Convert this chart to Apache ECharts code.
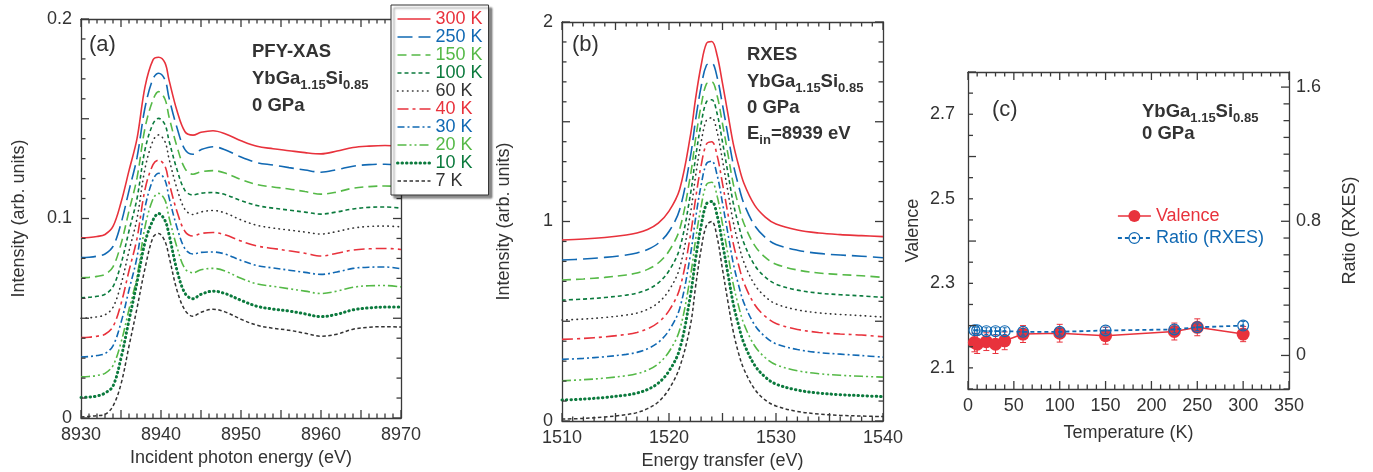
<!DOCTYPE html>
<html>
<head>
<meta charset="utf-8">
<script src="https://cdn.jsdelivr.net/npm/echarts@6/dist/echarts.min.js"></script>
<style>
  html, body { margin: 0; padding: 0; background: #fff; }
  #chart { width: 1373px; height: 472px; }
</style>
</head>
<body>
<div id="chart"></div>
<script>
// ---------- data ----------
const temperatures = ['300 K', '250 K', '150 K', '100 K', '60 K', '40 K', '30 K', '20 K', '10 K', '7 K'];

// (a) PFY-XAS spectra, incident photon energy (eV) vs intensity (offset per temperature)
const xasEnergy = [8930, 8931, 8932, 8933, 8934, 8935, 8936, 8937, 8938, 8939, 8939.7, 8940.5, 8941, 8942, 8943,
  8944, 8945, 8946.5, 8948, 8950, 8952, 8954, 8956, 8958, 8960, 8962, 8964, 8966, 8968, 8970];
const xas300 = [.0903, .0905, .0910, .0920, .0960, .1080, .1240, .1400, .1660, .1795, .1808, .1780, .1695, .1540, .1435, .1418, .1432, .1440, .1425, .1390, .1362, .1350, .1340, .1330, .1324, .1338, .1356, .1363, .1366, .1360];
const xas250 = [.0804, .0806, .0811, .0822, .0860, .0975, .1140, .1305, .1555, .1700, .1728, .1695, .1605, .1455, .1345, .1322, .1345, .1360, .1345, .1308, .1280, .1268, .1255, .1243, .1232, .1245, .1262, .1270, .1272, .1268];
const xas150 = [.0703, .0705, .0710, .0720, .0758, .0872, .1038, .1203, .1453, .1595, .1636, .1598, .1510, .1360, .1250, .1222, .1234, .1240, .1228, .1195, .1170, .1158, .1148, .1135, .1122, .1133, .1152, .1160, .1163, .1160];
const xas100 = [.0603, .0605, .0610, .0620, .0658, .0772, .0938, .1100, .1345, .1475, .1502, .1470, .1390, .1245, .1140, .1118, .1127, .1130, .1120, .1090, .1065, .1052, .1042, .1032, .1022, .1033, .1048, .1056, .1058, .1052];
const xas60 = [.0500, .0502, .0507, .0517, .0555, .0670, .0837, .1000, .1250, .1390, .1419, .1385, .1300, .1150, .1045, .1020, .1033, .1040, .1028, .0993, .0966, .0952, .0942, .0932, .0922, .0935, .0952, .0960, .0962, .0958];
const xas40 = [.0403, .0405, .0410, .0420, .0458, .0572, .0738, .0900, .1145, .1270, .1293, .1262, .1180, .1035, .0935, .0912, .0925, .0930, .0918, .0887, .0862, .0850, .0838, .0826, .0812, .0826, .0842, .0848, .0850, .0845];
const xas30 = [.0306, .0308, .0313, .0323, .0362, .0478, .0642, .0806, .1055, .1195, .1227, .1192, .1106, .0955, .0848, .0822, .0830, .0832, .0822, .0790, .0764, .0752, .0741, .0730, .0720, .0732, .0750, .0756, .0757, .0748];
const xas20 = [.0206, .0208, .0213, .0224, .0263, .0378, .0544, .0708, .0958, .1098, .1126, .1092, .1006, .0856, .0748, .0728, .0743, .0750, .0737, .0700, .0672, .0660, .0648, .0636, .0624, .0636, .0655, .0663, .0664, .0657];
const xas10 = [.0103, .0105, .0110, .0125, .0160, .0300, .0490, .0680, .0880, .0992, .1025, .0990, .0920, .0740, .0625, .0598, .0620, .0636, .0624, .0590, .0560, .0546, .0536, .0522, .0508, .0520, .0542, .0552, .0556, .0556];
const xas7 = [.0005, .0008, .0012, .0018, .0060, .0170, .0360, .0550, .0750, .0905, .0925, .0885, .0810, .0640, .0540, .0510, .0530, .0545, .0532, .0495, .0465, .0450, .0440, .0425, .0410, .0420, .0445, .0455, .0458, .0456];

// (b) RXES spectra, energy transfer (eV) vs intensity (offset per temperature)
const rxesEnergy = [1510, 1512, 1514, 1516, 1517, 1518, 1519, 1520, 1521, 1522, 1522.5, 1523, 1523.5, 1524,
  1524.5, 1525, 1525.5, 1526, 1526.5, 1527, 1528, 1529, 1530, 1532, 1534, 1536, 1538, 1540];
const rxes300 = [0.907, 0.912, 0.920, 0.932, 0.942, 0.960, 0.992, 1.052, 1.162, 1.430, 1.622, 1.782, 1.892, 1.902, 1.832, 1.692, 1.542, 1.392, 1.282, 1.192, 1.082, 1.022, 0.987, 0.957, 0.942, 0.934, 0.929, 0.924];
const rxes250 = [0.807, 0.812, 0.820, 0.832, 0.842, 0.860, 0.891, 0.950, 1.060, 1.325, 1.515, 1.675, 1.783, 1.793, 1.723, 1.585, 1.435, 1.288, 1.180, 1.090, 0.980, 0.920, 0.885, 0.856, 0.840, 0.832, 0.826, 0.818];
const rxes150 = [0.707, 0.712, 0.720, 0.732, 0.742, 0.760, 0.792, 0.852, 0.962, 1.230, 1.420, 1.580, 1.690, 1.700, 1.630, 1.490, 1.340, 1.190, 1.080, 0.990, 0.880, 0.820, 0.786, 0.757, 0.742, 0.734, 0.728, 0.720];
const rxes100 = [0.606, 0.611, 0.619, 0.631, 0.641, 0.659, 0.692, 0.753, 0.865, 1.135, 1.328, 1.490, 1.600, 1.610, 1.540, 1.398, 1.246, 1.094, 0.983, 0.892, 0.781, 0.721, 0.686, 0.656, 0.641, 0.633, 0.627, 0.620];
const rxes60 = [0.506, 0.511, 0.519, 0.531, 0.541, 0.560, 0.593, 0.655, 0.768, 1.040, 1.234, 1.397, 1.508, 1.520, 1.448, 1.306, 1.152, 0.999, 0.887, 0.796, 0.684, 0.623, 0.587, 0.557, 0.542, 0.534, 0.528, 0.521];
const rxes40 = [0.409, 0.414, 0.422, 0.434, 0.444, 0.462, 0.494, 0.553, 0.663, 0.930, 1.120, 1.280, 1.388, 1.400, 1.330, 1.190, 1.041, 0.892, 0.783, 0.693, 0.584, 0.524, 0.489, 0.459, 0.444, 0.436, 0.431, 0.422];
const rxes30 = [0.309, 0.314, 0.322, 0.334, 0.344, 0.362, 0.394, 0.454, 0.564, 0.832, 1.022, 1.182, 1.290, 1.302, 1.232, 1.092, 0.942, 0.792, 0.682, 0.592, 0.482, 0.422, 0.387, 0.358, 0.343, 0.335, 0.328, 0.320];
const rxes20 = [0.202, 0.207, 0.215, 0.227, 0.237, 0.255, 0.287, 0.347, 0.457, 0.725, 0.915, 1.075, 1.185, 1.197, 1.127, 0.987, 0.837, 0.687, 0.577, 0.487, 0.377, 0.317, 0.282, 0.252, 0.237, 0.229, 0.224, 0.220];
const rxes10 = [0.105, 0.110, 0.118, 0.130, 0.140, 0.158, 0.190, 0.250, 0.360, 0.628, 0.818, 0.978, 1.088, 1.100, 1.030, 0.890, 0.740, 0.590, 0.480, 0.390, 0.280, 0.220, 0.185, 0.155, 0.140, 0.132, 0.127, 0.122];
const rxes7 = [0.010, 0.013, 0.020, 0.032, 0.042, 0.062, 0.095, 0.160, 0.270, 0.480, 0.680, 0.860, 0.980, 1.000, 0.920, 0.760, 0.600, 0.450, 0.340, 0.260, 0.160, 0.105, 0.075, 0.048, 0.035, 0.028, 0.025, 0.022];

// (c) temperature dependence
const tempK = [7, 10, 20, 30, 40, 60, 100, 150, 225, 250, 300];
const valence = [2.160, 2.156, 2.162, 2.156, 2.164, 2.180, 2.182, 2.176, 2.186, 2.196, 2.180];
const valenceErr = [0.022, 0.022, 0.021, 0.022, 0.021, 0.020, 0.021, 0.020, 0.020, 0.020, 0.018];
const ratioRXES = [0.150, 0.150, 0.145, 0.145, 0.145, 0.141, 0.141, 0.149, 0.155, 0.168, 0.178];
const ratioErr = [0.020, 0.020, 0.020, 0.020, 0.020, 0.020, 0.020, 0.020, 0.020, 0.020, 0.025];

// tick label values
const xasEnergyTicks = [8930, 8940, 8950, 8960, 8970];
const rxesEnergyTicks = [1510, 1520, 1530, 1540];
const tempTicks = [0, 50, 100, 150, 200, 250, 300, 350];
const xasIntensityTicks = [0, 0.1, 0.2];
const rxesIntensityTicks = [0, 1, 2];
const valenceTicks = [2.1, 2.3, 2.5, 2.7];
const ratioTicks = [0, 0.8, 1.6];

// ---------- styles ----------
const FONT = "'Liberation Sans', Arial, Helvetica, sans-serif";
const TXT = '#333333';
const AXIS = '#3a3a3a';
const RED = '#e8323c';
const BLUE = '#1169b3';
const LGREEN = '#55b947';
const DGREEN = '#0b7a3d';
const GRAY = '#333333';

const curveStyles = [
  { color: RED, width: 1.6, type: 'solid' },
  { color: BLUE, width: 1.6, type: [15, 6] },
  { color: LGREEN, width: 1.6, type: [9, 5] },
  { color: DGREEN, width: 1.6, type: [4, 3] },
  { color: GRAY, width: 1.6, type: [0.5, 4.5], cap: 'round' },
  { color: RED, width: 1.6, type: [11, 4, 3, 4] },
  { color: BLUE, width: 1.6, type: [7, 3, 2, 3] },
  { color: LGREEN, width: 1.6, type: [9, 3, 2, 3, 2, 3] },
  { color: DGREEN, width: 3, type: [0.5, 4], cap: 'round' },
  { color: GRAY, width: 1.5, type: [3.5, 2.5] }
];

const xasSets = [xas300, xas250, xas150, xas100, xas60, xas40, xas30, xas20, xas10, xas7];
const rxesSets = [rxes300, rxes250, rxes150, rxes100, rxes60, rxes40, rxes30, rxes20, rxes10, rxes7];

const pair = (xs, ys) => xs.map((x, i) => [x, ys[i]]);
const near = (v, list) => list.some(t => Math.abs(v - t) < 1e-6);
const labelFrom = list => v => (near(v, list) ? String(parseFloat(v.toFixed(2))) : '');

function axis(o) {
  const a = {
    type: 'value',
    gridIndex: o.grid,
    position: o.pos,
    min: o.min, max: o.max, interval: o.interval,
    axisLine: { show: true, onZero: false, lineStyle: { color: AXIS, width: 1.3 } },
    axisTick: { show: false },
    minorTick: { show: false },
    splitLine: { show: false },
    axisLabel: {
      show: !!o.labels, formatter: o.labels ? labelFrom(o.labels) : undefined,
      color: TXT, fontSize: 18, fontFamily: FONT, margin: o.margin || 8
    },
    nameTextStyle: { color: TXT, fontSize: 18, fontFamily: FONT }
  };
  if (o.name) {
    a.name = o.name;
    a.nameLocation = 'middle';
    a.nameGap = o.nameGap;
    if (o.nameRotate != null) a.nameRotate = o.nameRotate;
  }
  return a;
}

const xAxes = [
  axis({ grid: 0, pos: 'bottom', min: 8930, max: 8970, interval: 5, labels: xasEnergyTicks, name: 'Incident photon energy (eV)', nameGap: 29, margin: 8 }),
  axis({ grid: 0, pos: 'top', min: 8930, max: 8970, interval: 5 }),
  axis({ grid: 1, pos: 'bottom', min: 1510, max: 1540, interval: 5, labels: rxesEnergyTicks, name: 'Energy transfer (eV)', nameGap: 26, margin: 8 }),
  axis({ grid: 1, pos: 'top', min: 1510, max: 1540, interval: 5 }),
  axis({ grid: 2, pos: 'bottom', min: 0, max: 350, interval: 50, labels: tempTicks, name: 'Temperature (K)', nameGap: 35, margin: 8 }),
  axis({ grid: 2, pos: 'top', min: 0, max: 350, interval: 50 })
];
const yAxes = [
  axis({ grid: 0, pos: 'left', min: 0, max: 0.2, interval: 0.05, labels: xasIntensityTicks, name: 'Intensity (arb. units)', nameGap: 53, nameRotate: 90, margin: 9 }),
  axis({ grid: 0, pos: 'right', min: 0, max: 0.2, interval: 0.05 }),
  axis({ grid: 1, pos: 'left', min: 0, max: 2, interval: 0.5, labels: rxesIntensityTicks, name: 'Intensity (arb. units)', nameGap: 49, nameRotate: 90, margin: 9 }),
  axis({ grid: 1, pos: 'right', min: 0, max: 2, interval: 0.5 }),
  axis({ grid: 2, pos: 'left', min: 2.05, max: 2.8, interval: 0.05, labels: valenceTicks, name: 'Valence', nameGap: 46, nameRotate: 90, margin: 13 }),
  axis({ grid: 2, pos: 'right', min: -0.2, max: 1.69, interval: 0.1, labels: ratioTicks, name: 'Ratio (RXES)', nameGap: 52, nameRotate: 90, margin: 7 })
];

// ---------- inward tick marks, placed through each panel's own scales ----------
function tickList(count, valueAt, isMajor, major, minor) {
  const out = [];
  for (let k = 0; k <= count; k++) out.push([valueAt(k), isMajor(k) ? major : minor]);
  return out;
}
// dir 'x': marks on bottom/top edges; dir 'y': marks on the requested side(s)
function tickSeries(xIdx, yIdx, dir, sides, ticks, ref) {
  return {
    type: 'custom', name: 'ticks', xAxisIndex: xIdx, yAxisIndex: yIdx, silent: true, z: 6, clip: false,
    encode: { x: 0, y: 1 },
    data: ticks.map(t => (dir === 'x' ? [t[0], ref, t[1]] : [ref, t[0], t[1]])),
    renderItem: function (params, api) {
      const cs = params.coordSys;
      const len = api.value(2);
      const p = api.coord([api.value(0), api.value(1)]);
      const st = { stroke: AXIS, lineWidth: 1.3 };
      const kids = [];
      if (dir === 'x') {
        if (sides.indexOf('bottom') > -1) kids.push({ type: 'line', shape: { x1: p[0], y1: cs.y + cs.height, x2: p[0], y2: cs.y + cs.height - len }, style: st });
        if (sides.indexOf('top') > -1) kids.push({ type: 'line', shape: { x1: p[0], y1: cs.y, x2: p[0], y2: cs.y + len }, style: st });
      } else {
        if (sides.indexOf('left') > -1) kids.push({ type: 'line', shape: { x1: cs.x, y1: p[1], x2: cs.x + len, y2: p[1] }, style: st });
        if (sides.indexOf('right') > -1) kids.push({ type: 'line', shape: { x1: cs.x + cs.width, y1: p[1], x2: cs.x + cs.width - len, y2: p[1] }, style: st });
      }
      return { type: 'group', children: kids };
    }
  };
}

const series = [];
temperatures.forEach((t, i) => {
  const st = curveStyles[i];
  const common = {
    name: t, type: 'line', symbol: 'none', smooth: 0.35, silent: true,
    color: st.color,
    itemStyle: { color: st.color },
    lineStyle: { color: st.color, width: st.width, type: st.type, cap: st.cap || 'butt' },
    emphasis: { disabled: true }
  };
  series.push(Object.assign({}, common, { xAxisIndex: 0, yAxisIndex: 0, data: pair(xasEnergy, xasSets[i]) }));
  series.push(Object.assign({}, common, { xAxisIndex: 2, yAxisIndex: 2, data: pair(rxesEnergy, rxesSets[i]) }));
});

// panel (a): 1 eV and 0.01 steps, longer every 5
series.push(tickSeries(0, 0, 'x', ['bottom', 'top'], tickList(40, k => 8930 + k, k => k % 5 === 0, 8, 4.5), 0.1));
series.push(tickSeries(0, 0, 'y', ['left', 'right'], tickList(20, k => k / 100, k => k % 5 === 0, 8, 4.5), 8950));
// panel (b): 1 eV and 0.1 steps, longer every 5
series.push(tickSeries(2, 2, 'x', ['bottom', 'top'], tickList(30, k => 1510 + k, k => k % 5 === 0, 8, 4.5), 1));
series.push(tickSeries(2, 2, 'y', ['left', 'right'], tickList(20, k => k / 10, k => k % 5 === 0, 8, 4.5), 1525));
// panel (c): 10 K steps, valence 0.05 steps (left), ratio 0.1 steps (right)
series.push(tickSeries(4, 4, 'x', ['bottom', 'top'], tickList(35, k => 10 * k, k => k % 5 === 0, 8, 4.5), 2.4));
series.push(tickSeries(4, 4, 'y', ['left'], tickList(15, k => (205 + 5 * k) / 100, k => (k + 1) % 4 === 0, 8, 5), 175));
series.push(tickSeries(4, 5, 'y', ['right'], tickList(18, k => (k - 2) / 10, k => (k - 2) % 8 === 0, 8, 5.5), 175));

// ring with a centre dot, used for the RXES ratio markers
const RING = 'path://M0,-10A10,10,0,1,1,0,10A10,10,0,1,1,0,-10Z' +
  'M0,-8A8,8,0,1,0,0,8A8,8,0,1,0,0,-8Z' +
  'M0,-2.2A2.2,2.2,0,1,1,0,2.2A2.2,2.2,0,1,1,0,-2.2Z';

function errorBars(color, cap) {
  return function (params, api) {
    const x = api.value(0), y = api.value(1), e = api.value(2);
    const top = api.coord([x, y + e]);
    const bot = api.coord([x, y - e]);
    const s = { stroke: color, lineWidth: 1 };
    return {
      type: 'group',
      children: [
        { type: 'line', shape: { x1: top[0], y1: top[1], x2: bot[0], y2: bot[1] }, style: s },
        { type: 'line', shape: { x1: top[0] - cap, y1: top[1], x2: top[0] + cap, y2: top[1] }, style: s },
        { type: 'line', shape: { x1: bot[0] - cap, y1: bot[1], x2: bot[0] + cap, y2: bot[1] }, style: s }
      ]
    };
  };
}

series.push({
  name: 'valence-error', type: 'custom', xAxisIndex: 4, yAxisIndex: 4, silent: true, z: 3,
  renderItem: errorBars(RED, 3),
  encode: { x: 0, y: 1 },
  data: tempK.map((t, i) => [t, valence[i], valenceErr[i]])
});
series.push({
  name: 'Valence', type: 'line', xAxisIndex: 4, yAxisIndex: 4, silent: true, z: 4,
  data: pair(tempK, valence),
  symbol: 'circle', symbolSize: 13,
  color: RED, itemStyle: { color: RED },
  lineStyle: { color: RED, width: 1.5 },
  emphasis: { disabled: true }
});
series.push({
  name: 'Ratio (RXES)', type: 'line', xAxisIndex: 4, yAxisIndex: 5, silent: true, z: 5,
  data: pair(tempK, ratioRXES),
  symbol: RING, symbolSize: 12, symbolKeepAspect: true,
  color: BLUE, itemStyle: { color: BLUE },
  lineStyle: { color: BLUE, width: 1.8, type: [4, 3] },
  emphasis: { disabled: true }
});
series.push({
  name: 'ratio-error', type: 'custom', xAxisIndex: 4, yAxisIndex: 5, silent: true, z: 6,
  renderItem: errorBars(BLUE, 2),
  encode: { x: 0, y: 1 },
  data: tempK.map((t, i) => [t, ratioRXES[i], ratioErr[i]])
});

// ---------- annotations ----------
const rich = {
  m: { fontSize: 18.5, fontWeight: 'bold', fontFamily: FONT, fill: TXT, lineHeight: 26, verticalAlign: 'middle' },
  s: { fontSize: 13, fontWeight: 'bold', fontFamily: FONT, fill: TXT, lineHeight: 13, verticalAlign: 'bottom' },
  r: { fontSize: 22, fontFamily: FONT, fill: TXT, lineHeight: 26, verticalAlign: 'middle' }
};
function label(x, y, text) {
  return {
    type: 'text', x: x, y: y, z: 10, silent: true,
    style: { text: text, rich: rich, fill: TXT, align: 'left', verticalAlign: 'middle', textAlign: 'left', textVerticalAlign: 'middle' }
  };
}
const compound = '{m|YbGa}{s|1.15}{m|Si}{s|0.85}';
const graphic = [
  label(89, 45, '{r|(a)}'),
  label(252, 52, '{m|PFY-XAS}'),
  label(252, 79, compound),
  label(252, 106, '{m|0 GPa}'),
  label(572, 45, '{r|(b)}'),
  label(747, 55, '{m|RXES}'),
  label(747, 82, compound),
  label(747, 108, '{m|0 GPa}'),
  label(747, 134, '{m|E}{s|in}{m|=8939 eV}'),
  label(992, 110, '{r|(c)}'),
  label(1142, 112, compound),
  label(1142, 134, '{m|0 GPa}')
];

const option = {
  animation: false,
  backgroundColor: '#ffffff',
  grid: [
    { left: 81, top: 19, width: 320, height: 399, outerBoundsMode: 'none' },
    { left: 562, top: 22, width: 321, height: 399, outerBoundsMode: 'none' },
    { left: 968, top: 72, width: 321, height: 317, outerBoundsMode: 'none' }
  ],
  xAxis: xAxes,
  yAxis: yAxes,
  legend: [
    {
      data: temperatures.map((t, i) => ({
        name: t,
        textStyle: { color: curveStyles[i].color },
        lineStyle: { color: curveStyles[i].color, width: curveStyles[i].width, type: curveStyles[i].type, cap: curveStyles[i].cap || 'butt' }
      })),
      orient: 'vertical', left: 391, top: 5,
      padding: [5, 6, 5, 5], itemWidth: 33, itemHeight: 12, itemGap: 0,
      textStyle: { fontSize: 18, fontFamily: FONT, lineHeight: 18 },
      itemStyle: { opacity: 0 },
      backgroundColor: '#ffffff', borderColor: '#333333', borderWidth: 1,
      shadowColor: 'rgba(0,0,0,0.45)', shadowBlur: 2, shadowOffsetX: 3, shadowOffsetY: 3,
      selectedMode: false, z: 8
    },
    {
      data: [
        { name: 'Valence', textStyle: { color: RED }, lineStyle: { color: RED, width: 1.5, type: 'solid' } },
        { name: 'Ratio (RXES)', textStyle: { color: BLUE }, lineStyle: { color: BLUE, width: 1.8, type: [4, 3] } }
      ],
      orient: 'vertical', left: 1117, top: 207,
      padding: 0, itemWidth: 33, itemHeight: 15, itemGap: 4,
      textStyle: { fontSize: 18, fontFamily: FONT, lineHeight: 18 },
      selectedMode: false
    }
  ],
  graphic: graphic,
  series: series
};

const chart = echarts.init(document.getElementById('chart'), null, { renderer: 'canvas' });
chart.setOption(option);
</script>
</body>
</html>
